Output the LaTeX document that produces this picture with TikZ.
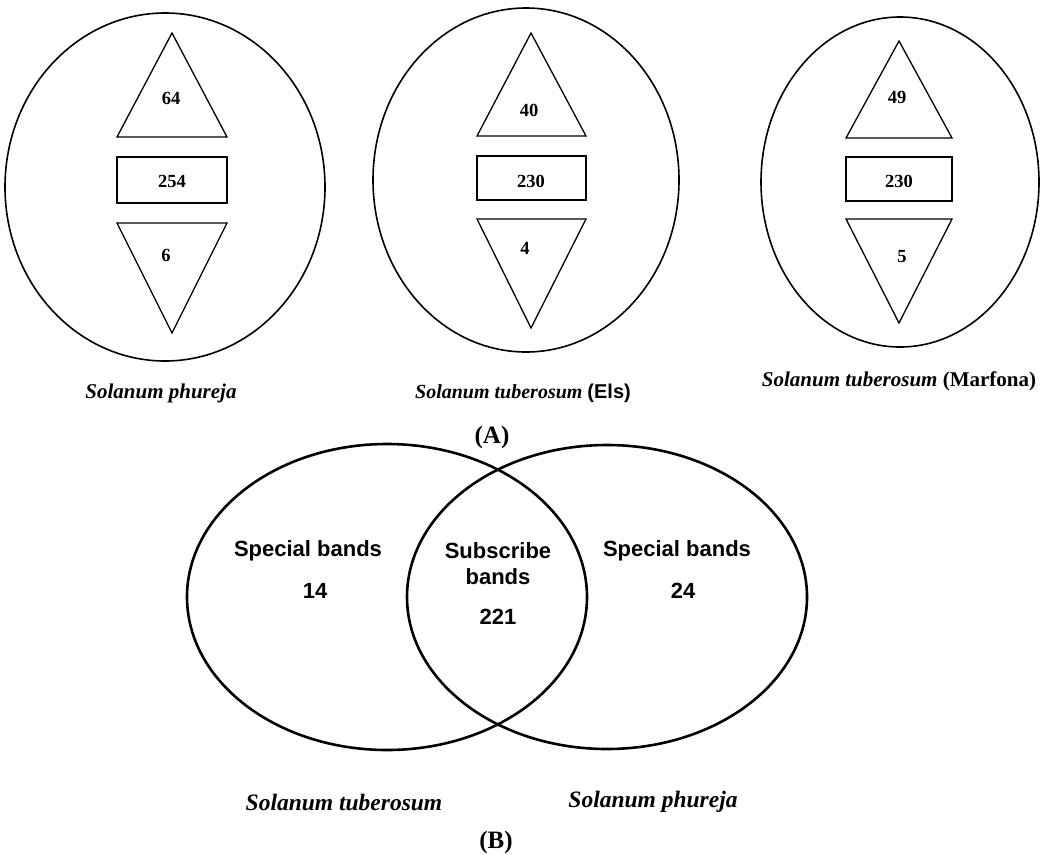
\documentclass[tikz,border=0pt]{standalone}
\usepackage{fontspec}
\setmainfont{Liberation Serif}
\setsansfont{Liberation Sans}
\usepackage{tikz}

\begin{document}
\begin{tikzpicture}[x=1pt, y=-1pt,
  num/.style={font=\fontsize{18.5}{21}\selectfont\bfseries},
  lbl/.style={font=\fontsize{21}{25}\selectfont\bfseries\itshape},
  biglbl/.style={font=\fontsize{23.5}{27}\selectfont\bfseries\itshape},
  tag/.style={font=\fontsize{25}{28}\selectfont\bfseries},
  venn/.style={font=\fontsize{22}{26}\selectfont\sffamily\bfseries, align=center}]
  \useasboundingbox (0,0) rectangle (1040,854);
  % (A) Solanum phureja
  \draw[line width=1.6pt] (165,187) ellipse [x radius=160, y radius=174];
  \draw[line width=1.3pt] (172,33) -- (227,137) -- (117,137) -- cycle;
  \draw[line width=1.3pt] (117,157) rectangle (227,203);
  \draw[line width=1.3pt] (117,223) -- (227,223) -- (172,333) -- cycle;
  \node[num] (pUp) at (171,98) {64};
  \node[num] (pMid) at (172,181) {254};
  \node[num] (pDown) at (166,255) {6};
  \node[lbl] (pName) at (161,393) {Solanum phureja};
  % (A) Solanum tuberosum (Els)
  \draw[line width=1.6pt] (526,180) ellipse [x radius=153, y radius=172];
  \draw[line width=1.3pt] (531,33) -- (586,136) -- (477,136) -- cycle;
  \draw[line width=1.3pt] (477,156) rectangle (586,200);
  \draw[line width=1.3pt] (477,219) -- (586,219) -- (531,328) -- cycle;
  \node[num] (eUp) at (529,110) {40};
  \node[num] (eMid) at (531,181) {230};
  \node[num] (eDown) at (525,248) {4};
  \node[lbl, font=\fontsize{20}{24}\selectfont\bfseries\itshape] (eName) at (523,393)
    {Solanum tuberosum {\sffamily\upshape (Els)}};
  % (A) Solanum tuberosum (Marfona)
  \draw[line width=1.6pt] (900,182) ellipse [x radius=139, y radius=165];
  \draw[line width=1.3pt] (899,41) -- (952,138) -- (846,138) -- cycle;
  \draw[line width=1.3pt] (846,157) rectangle (952,201);
  \draw[line width=1.3pt] (846,219) -- (952,219) -- (899,323) -- cycle;
  \node[num] (mUp) at (897,97) {49};
  \node[num] (mMid) at (899,181) {230};
  \node[num] (mDown) at (902,257) {5};
  \node[lbl] (mName) at (899,381) {Solanum tuberosum {\upshape (Marfona)}};
  \node[tag] (tagA) at (492,437) {(A)};
  % (B) Venn diagram
  \draw[line width=2.6pt] (387,597) ellipse [x radius=200, y radius=153];
  \draw[line width=2.6pt] (607,597) ellipse [x radius=200, y radius=152];
  \node[venn] (tLeft) at (308,551) {Special bands};
  \node[venn] (nLeft) at (315,591) {14};
  \node[venn] (tMid) at (498,564) {Subscribe\\bands};
  \node[venn] (nMid) at (498,617) {221};
  \node[venn] (tRight) at (677,551) {Special bands};
  \node[venn] (nRight) at (683,591) {24};
  \node[biglbl] (vLeft) at (344,802) {Solanum tuberosum};
  \node[biglbl] (vRight) at (653,802) {Solanum phureja};
  \node[tag] (tagB) at (496,842) {(B)};
\end{tikzpicture}
\end{document}
